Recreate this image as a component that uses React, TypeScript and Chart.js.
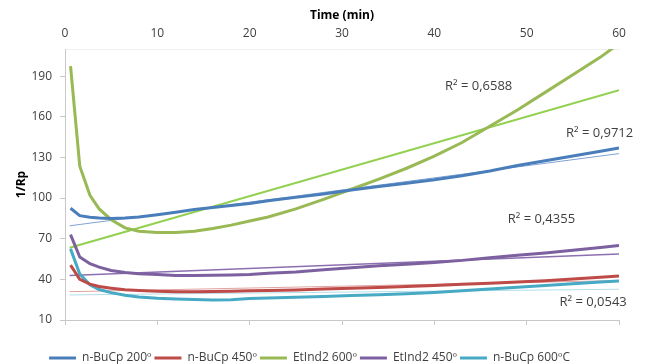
import React, { useEffect, useRef } from 'react';
import { Chart, registerables } from 'chart.js';
Chart.register(...registerables);

const times = [0.6, 1.6, 2.7, 3.7, 5, 6.5, 8, 10, 12, 14, 16, 18, 20, 22, 25, 28, 31, 34, 37, 40, 43, 46, 49, 52, 55, 58, 60];
const buCp200 = [92.5, 87, 85.8, 85.2, 85, 85.2, 86, 87.7, 89.5, 91.5, 93, 94.5, 96, 98, 100.5, 103, 106, 108.5, 111, 113.5, 116.5, 120, 124, 127.5, 131, 134.5, 137];
const buCp450 = [50.5, 40, 36.5, 34.7, 33.5, 32.3, 31.7, 31.2, 30.9, 30.9, 31, 31.2, 31.5, 31.8, 32.2, 32.8, 33.4, 34, 34.8, 35.5, 36.3, 37.2, 38, 39, 40.3, 41.6, 42.5];
const etInd600 = [197.4, 123.5, 102, 92, 84, 78, 75.5, 74.5, 74.5, 75.5, 77.5, 80, 83, 86, 92, 99, 106.5, 114, 122, 131, 141, 153, 165, 178, 191, 204, 214];
const etInd450 = [73, 56.5, 51.5, 49, 46.5, 45, 44.2, 43.5, 42.8, 42.8, 43, 43.2, 43.5, 44.5, 45.5, 47, 48.5, 50, 51.2, 52.5, 54, 56, 57.7, 59.5, 61.5, 63.5, 65];
const buCp600 = [62.5, 44, 36, 32.5, 30.2, 28.3, 27, 26, 25.5, 25.2, 24.8, 25, 25.8, 26.2, 26.7, 27.4, 28, 28.6, 29.3, 30.3, 31.5, 32.8, 34.2, 35.5, 36.8, 38, 38.8];

const trendTimes = [0.5, 60];
const buCp200Trend = [79.5, 132.8];
const buCp450Trend = [30.9, 39.1];
const etInd600Trend = [63.3, 179.6];
const etInd450Trend = [42.8, 58.8];
const buCp600Trend = [28.5, 32.7];

const r2Texts = ['R² = 0,6588', 'R² = 0,9712', 'R² = 0,4355', 'R² = 0,0543'];
const r2Times = [44.8, 57.9, 51.6, 57.2];
const r2Values = [182.6, 147.6, 84, 23.3];

const xTicks = [0, 10, 20, 30, 40, 50, 60];
const yTicks = [10, 40, 70, 100, 130, 160, 190];

const seriesNames = ['n-BuCp 200º', 'n-BuCp 450º', 'EtInd2 600º', 'EtInd2 450º', 'n-BuCp 600ºC'];
const seriesColors = ['#4A7EBB', '#BE4B48', '#98B954', '#7D60A0', '#46AAC5'];
const trendColors = ['#7FA3D3', '#E0A3A1', '#92D050', '#8C6FB0', '#B3DDEA'];
const trendWidths = [1, 1, 2, 1.5, 1];

const FONT = "'Open Sans', 'DejaVu Sans', sans-serif";

const pts = (xs: number[], ys: number[]) => xs.map((x, i) => ({ x, y: ys[i] }));

export default function App() {
  const ref = useRef<HTMLCanvasElement | null>(null);
  useEffect(() => {
    if (!ref.current) return;
    const series = [buCp200, buCp450, etInd600, etInd450, buCp600];
    const trends = [buCp200Trend, buCp450Trend, etInd600Trend, etInd450Trend, buCp600Trend];
    const datasets: any[] = [];
    series.forEach((s, i) => {
      datasets.push({
        label: seriesNames[i],
        data: pts(times, s),
        borderColor: seriesColors[i],
        backgroundColor: seriesColors[i],
        borderWidth: 3,
        pointRadius: 0,
        tension: 0,
        xAxisID: 'x',
        yAxisID: 'y',
      });
    });
    trends.forEach((t, i) => {
      datasets.push({
        label: 'trend ' + seriesNames[i],
        data: pts(trendTimes, t),
        borderColor: trendColors[i],
        backgroundColor: trendColors[i],
        borderWidth: trendWidths[i],
        pointRadius: 0,
        tension: 0,
        xAxisID: 'x',
        yAxisID: 'y',
      });
    });

    const r2Plugin = {
      id: 'r2labels',
      afterDatasetsDraw(chart: any) {
        const { ctx, scales } = chart;
        ctx.save();
        ctx.font = `13px ${FONT}`;
        ctx.fillStyle = '#404040';
        ctx.textAlign = 'center';
        ctx.textBaseline = 'middle';
        r2Texts.forEach((t, i) => {
          ctx.fillText(t, scales.x.getPixelForValue(r2Times[i]), scales.y.getPixelForValue(r2Values[i]));
        });
        ctx.restore();
      },
    };

    const chart = new Chart(ref.current, {
      type: 'line',
      data: { datasets },
      plugins: [r2Plugin],
      options: {
        animation: false,
        responsive: false,
        devicePixelRatio: 1,
        layout: { padding: { left: 0, right: 27, top: 0, bottom: -10 } },
        plugins: {
          tooltip: { enabled: false },
          legend: {
            position: 'bottom',
            labels: {
              filter: (item: any) => item.datasetIndex < 5,
              usePointStyle: true,
              pointStyle: 'line',
              pointStyleWidth: 27,
              padding: 3,
              color: '#404040',
              font: { family: FONT, size: 12 },
            },
          },
        },
        scales: {
          x: {
            type: 'linear',
            position: 'bottom',
            min: 0,
            max: 60,
            afterBuildTicks: (s: any) => { s.ticks = xTicks.map((v) => ({ value: v })); },
            afterFit: (s: any) => { s.height = 29; },
            ticks: { display: false },
            grid: { drawOnChartArea: false, drawTicks: true, tickLength: 5, color: '#C8C8C8' },
            border: { display: true, color: '#C8C8C8' },
          },
          xTop: {
            type: 'linear',
            position: 'top',
            min: 0,
            max: 60,
            afterBuildTicks: (s: any) => { s.ticks = xTicks.map((v) => ({ value: v })); },
            afterFit: (s: any) => { s.height = 49; },
            ticks: { padding: 0, color: '#404040', font: { family: FONT, size: 12 } },
            grid: { display: false },
            border: { display: true, color: '#F0F0F0' },
            title: {
              display: true,
              text: 'Time (min)',
              color: '#000000',
              font: { family: FONT, size: 12, weight: 'bold' },
              padding: { top: 8, bottom: 0 },
            },
          },
          y: {
            type: 'linear',
            min: 10,
            max: 210,
            afterBuildTicks: (s: any) => { s.ticks = yTicks.map((v) => ({ value: v })); },
            afterFit: (s: any) => { s.width = 65; },
            ticks: { padding: 8, color: '#404040', font: { family: FONT, size: 12 } },
            grid: { drawOnChartArea: false, drawTicks: true, tickLength: 5, color: '#C8C8C8' },
            border: { display: true, color: '#C8C8C8' },
            title: {
              display: true,
              text: '1/Rp',
              color: '#000000',
              font: { family: FONT, size: 12, weight: 'bold' },
              padding: { top: 14, bottom: 0 },
            },
          },
        },
      } as any,
    });
    return () => chart.destroy();
  }, []);
  return (
    <div style={{ position: 'absolute', left: 0, top: 0, width: 646, height: 364, background: '#fff' }}>
      <canvas ref={ref} width={646} height={364} style={{ display: 'block' }} />
    </div>
  );
}
